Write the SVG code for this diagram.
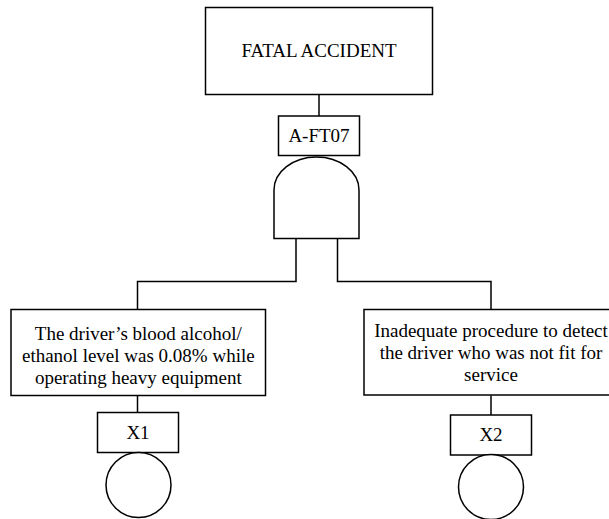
<svg xmlns="http://www.w3.org/2000/svg" width="609" height="519" viewBox="0 0 609 519">
  <style>
    .box { fill: #fff; stroke: #000; stroke-width: 1.5; }
    .wire { fill: none; stroke: #000; stroke-width: 1.5; }
    .lbl { font-family: 'Liberation Serif', 'Times New Roman', Times, 'DejaVu Serif', serif; font-size: 19px; fill: #000; text-anchor: middle; }
  </style>
  <rect width="609" height="519" fill="#fff"/>

  <!-- connectors -->
  <g id="connectors">
    <path class="wire" d="M319 94.5 V116"/>
    <path class="wire" d="M296 238.5 V281.5 H137.5 V309.5"/>
    <path class="wire" d="M337.5 238.5 V281.5 H491 V309.5"/>
    <path class="wire" d="M137.5 395.5 V412.5"/>
    <path class="wire" d="M491 395.5 V415"/>
  </g>

  <!-- top event -->
  <g id="top-event">
    <rect class="box" x="205.5" y="7.5" width="227" height="87"/>
    <text class="lbl" x="319" y="57">FATAL ACCIDENT</text>
  </g>

  <!-- AND gate with its label -->
  <g id="gate-A-FT07">
    <path class="box" d="M274 238.5 V190 A42.5 33 0 0 1 359 190 V238.5 Z"/>
    <rect class="box" x="278.5" y="116" width="81" height="39.5"/>
    <text class="lbl" x="319" y="142">A-FT07</text>
  </g>

  <!-- basic event X1 -->
  <g id="event-X1">
    <rect class="box" x="11" y="309.5" width="254.5" height="86"/>
    <text class="lbl" x="138.3" y="340">The driver’s blood alcohol/</text>
    <text class="lbl" x="138.3" y="362">ethanol level was 0.08% while</text>
    <text class="lbl" x="138.3" y="384">operating heavy equipment</text>
    <rect class="box" x="97.5" y="412.5" width="81" height="40"/>
    <text class="lbl" x="138" y="439">X1</text>
    <circle class="box" cx="138.5" cy="485" r="32.5"/>
  </g>

  <!-- basic event X2 -->
  <g id="event-X2">
    <rect class="box" x="364" y="309.5" width="254" height="85.5"/>
    <text class="lbl" x="491" y="337">Inadequate procedure to detect</text>
    <text class="lbl" x="491" y="359">the driver who was not fit for</text>
    <text class="lbl" x="491" y="381">service</text>
    <rect class="box" x="450.5" y="415" width="81" height="40"/>
    <text class="lbl" x="491" y="441">X2</text>
    <circle class="box" cx="491" cy="487" r="32.5"/>
  </g>
</svg>
